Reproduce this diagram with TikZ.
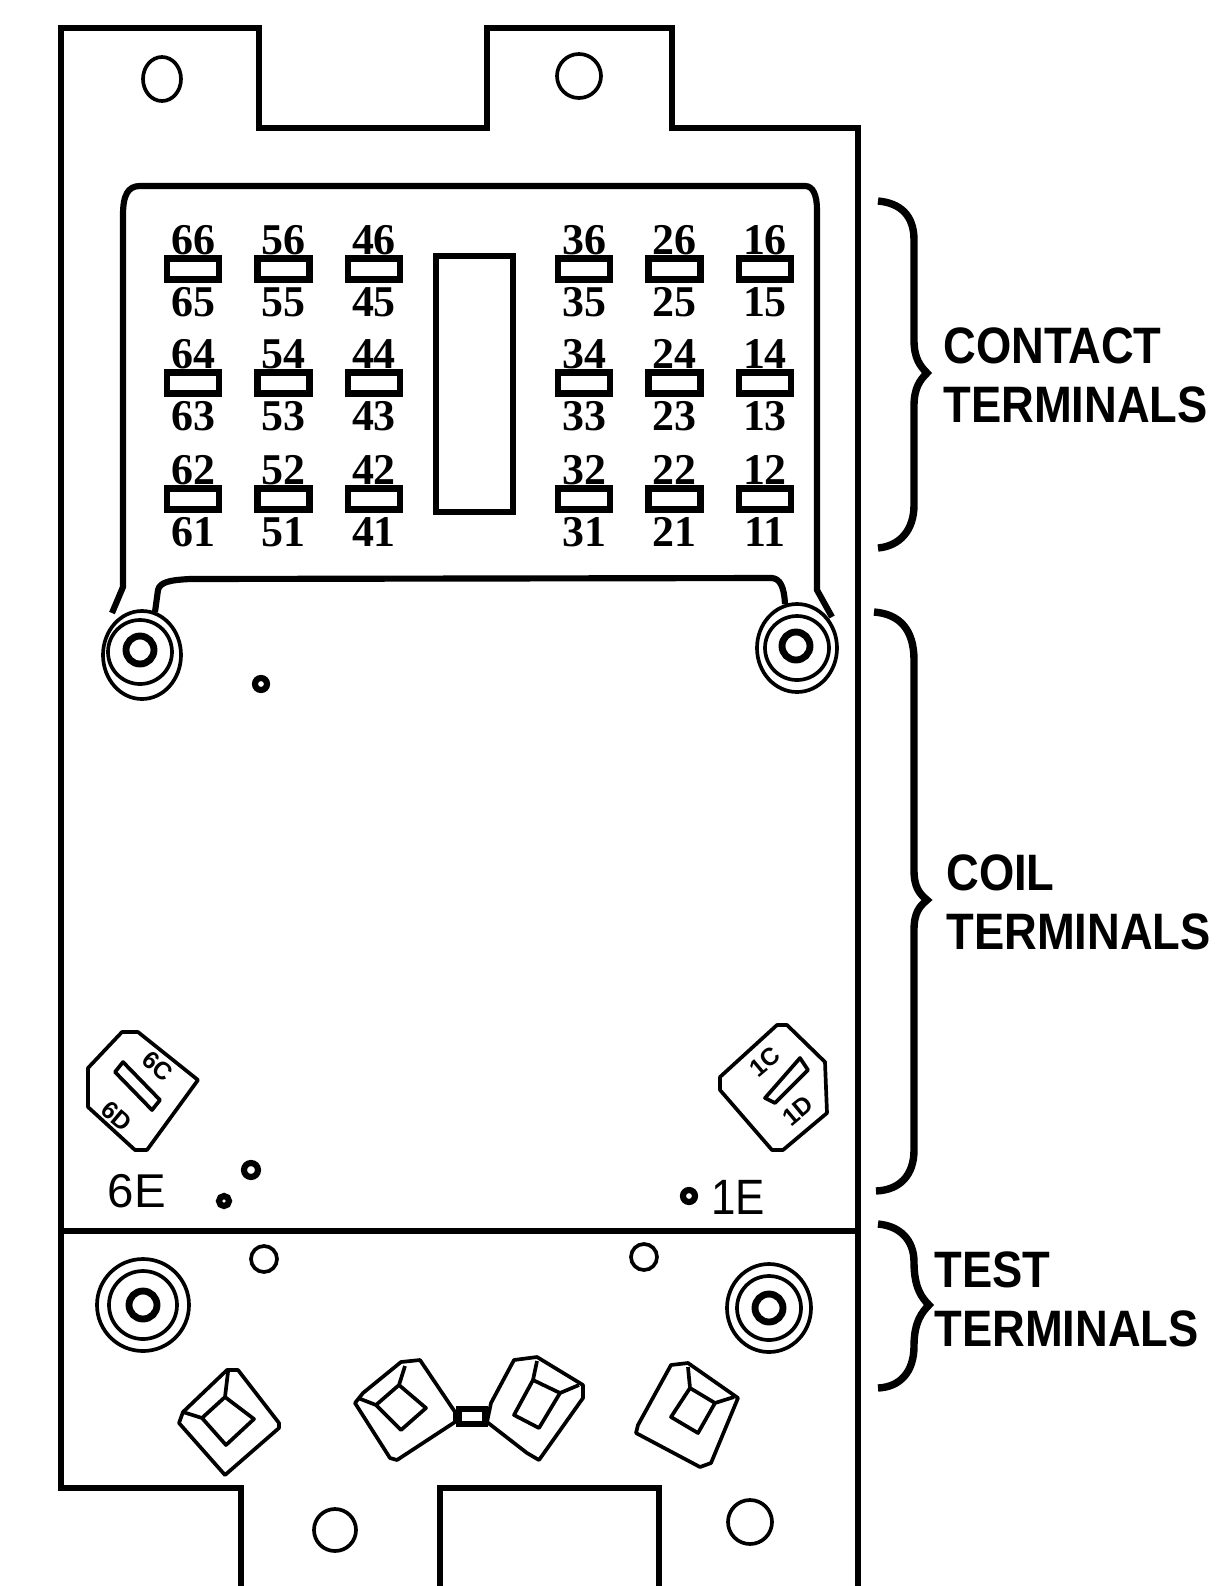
\documentclass[tikz,border=0pt]{standalone}
\usepackage{fontspec}
\setmainfont{Liberation Sans}
\newfontfamily\digitfont{Liberation Serif}
\newcommand{\tallcap}[1]{\scalebox{1}[1.13]{#1}}
\tikzset{
	x=0.02cm, % Un pixel de la referencia
	y=-0.02cm, % El eje y hacia abajo
	node distance=1.81cm, % Distancia entre columnas
	panel/.style={line width=3.5pt}, % Contornos gruesos
	bracket/.style={line width=4.2pt}, % Llaves de la derecha
	fine/.style={line width=2.1pt, line join=round}, % Contornos de las piezas
	nutring/.style={line width=3.9pt}, % Anillo central de las tuercas
	terminal/.style={draw, line width=3.7pt, minimum width=1.04cm, minimum height=0.42cm, inner sep=0pt, label distance=2.4pt}, % Ranuras de contacto
	every label/.style={font=\digitfont\bfseries\fontsize{25}{25}\selectfont, inner sep=0pt, text height=19pt}, % Numeros de las ranuras
	caption/.style={font=\bfseries\fontsize{25.8}{33.6}\selectfont, align=left, anchor=west, inner sep=0pt}, % Textos de la derecha
	coilmark/.style={font=\bfseries\fontsize{14}{14}\selectfont, inner sep=0pt} % Textos girados
}

\begin{document}
\begin{tikzpicture}
			\useasboundingbox (0,0) rectangle (1217,1586);
			% placa exterior
			\draw[panel] (241,1586) -- (241,1488) -- (61,1488) -- (61,28) -- (259,28) -- (259,128) -- (487,128) -- (487,28) -- (672,28) -- (672,128) -- (858,128) -- (858,1586);
			\draw[panel] (440,1586) -- (440,1488) -- (659,1488) -- (659,1586);
			\draw[panel] (61,1231) -- (858,1231);
			\draw[fine] (162,79) ellipse [x radius=19, y radius=22];
			\draw[fine] (579,76) ellipse [x radius=22, y radius=22];
			\draw[fine] (335,1530) ellipse [x radius=21, y radius=21];
			\draw[fine] (750,1522) ellipse [x radius=22, y radius=22];
			% zona de contactos
			\draw[panel] (112,613) -- (123,587) -- (123,215) .. controls (123,195) and (128,186) .. (140,186) -- (805,186) .. controls (813,186) and (817,195) .. (817,210) -- (817,590) -- (832,617);
			\draw[panel] (155,612) -- (158,590) .. controls (160,582) and (170,580) .. (190,579) -- (772,578) .. controls (780,579) and (784,586) .. (785,604);
			\node[terminal, label=above:{66}, label=below:{65}] (t66) at (193,269) {};
			\node[terminal, label=above:{56}, label=below:{55}, right of=t66] (t56) {};
			\node[terminal, label=above:{46}, label=below:{45}, right of=t56] (t46) {};
			\node[terminal, label=above:{64}, label=below:{63}, below of=t66, node distance=2.28cm] (t64) {};
			\node[terminal, label=above:{54}, label=below:{53}, right of=t64] (t54) {};
			\node[terminal, label=above:{44}, label=below:{43}, right of=t54] (t44) {};
			\node[terminal, label=above:{62}, label=below:{61}, below of=t64, node distance=2.32cm] (t62) {};
			\node[terminal, label=above:{52}, label=below:{51}, right of=t62] (t52) {};
			\node[terminal, label=above:{42}, label=below:{41}, right of=t52] (t42) {};
			\node[terminal, label=above:{36}, label=below:{35}] (t36) at (584,269) {};
			\node[terminal, label=above:{26}, label=below:{25}, right of=t36] (t26) {};
			\node[terminal, label=above:{16}, label=below:{15}, right of=t26] (t16) {};
			\node[terminal, label=above:{34}, label=below:{33}, below of=t36, node distance=2.28cm] (t34) {};
			\node[terminal, label=above:{24}, label=below:{23}, right of=t34] (t24) {};
			\node[terminal, label=above:{14}, label=below:{13}, right of=t24] (t14) {};
			\node[terminal, label=above:{32}, label=below:{31}, below of=t34, node distance=2.32cm] (t32) {};
			\node[terminal, label=above:{22}, label=below:{21}, right of=t32] (t22) {};
			\node[terminal, label=above:{12}, label=below:{11}, right of=t22] (t12) {};
			\draw[panel] (436,256) rectangle (513,512);
			% tuercas
			\draw[fine] (142,655) ellipse [x radius=39, y radius=44] (140,652) circle [radius=32];
			\draw[nutring] (140,650) circle [radius=14];
			\draw[fine] (797,648) ellipse [x radius=40, y radius=44] (797,648) circle [radius=32];
			\draw[nutring] (796,646) circle [radius=14];
			\draw[fine] (143,1305) circle [radius=46] circle [radius=34];
			\draw[nutring] (143,1305) circle [radius=14];
			\draw[fine] (769,1308) ellipse [x radius=42, y radius=44] circle [radius=32];
			\draw[nutring] (769,1308) circle [radius=14];
			% agujeros pequenos
			\draw[panel] (261,684) circle [radius=6];
			\draw[panel] (251,1170) circle [radius=7];
			\draw[panel] (224,1201) circle [radius=5];
			\draw[panel] (689,1196) circle [radius=6];
			\draw[fine] (264,1259) circle [radius=13];
			\draw[fine] (644,1257) circle [radius=13];
			% bornes de bobina
			\draw[fine] (122,1032) -- (138,1032) -- (198,1080) -- (147,1150) -- (135,1150) -- (88,1107) -- (88,1068) -- cycle;
			\draw[fine] (115,1072) -- (123,1062) -- (160,1100) -- (152,1110) -- cycle;
			\node[coilmark, rotate=-40] (markA) at (158,1066) {6C};
			\node[coilmark, rotate=-40] (markB) at (117,1116) {6D};
			\draw[fine] (720,1077) -- (720,1090) -- (772,1150) -- (783,1150) -- (827,1113) -- (825,1062) -- (787,1025) -- (777,1025) -- cycle;
			\draw[fine] (765,1098) -- (775,1103) -- (808,1070) -- (800,1058) -- cycle;
			\node[coilmark, rotate=40] (markC) at (765,1062) {1C};
			\node[coilmark, rotate=40] (markD) at (798,1111) {1D};
			\node[font=\fontsize{27}{27}\selectfont, inner sep=0pt] (labSix) at (137,1191) {6E};
			\node[font=\fontsize{25}{25}\selectfont, inner sep=0pt] (labOne) at (738,1197) {\tallcap{1E}};
			% bornes de prueba
			\draw[fine] (227,1370) -- (238,1370) -- (279,1423) -- (279,1428) -- (225,1475) -- (179,1423) -- (183,1412) -- cycle;
			\draw[fine] (225,1397) -- (254,1419) -- (226,1445) -- (202,1418) -- cycle (228,1372) -- (225,1397) (183,1412) -- (202,1418);
			\draw[fine] (401,1362) -- (420,1360) -- (455,1412) -- (455,1422) -- (397,1460) -- (390,1458) -- (355,1403) -- (363,1393) -- cycle;
			\draw[fine] (399,1385) -- (426,1408) -- (401,1430) -- (376,1405) -- cycle (405,1366) -- (399,1385) (358,1398) -- (376,1405);
			\draw[panel] (459,1409) rectangle (485,1424);
			\draw[fine] (514,1360) -- (537,1357) -- (583,1385) -- (583,1398) -- (539,1460) -- (527,1453) -- (487,1422) -- (491,1403) -- cycle;
			\draw[fine] (533,1380) -- (560,1393) -- (539,1428) -- (514,1415) -- cycle (537,1361) -- (533,1380) (579,1385) -- (560,1393);
			\draw[fine] (671,1365) -- (688,1363) -- (738,1398) -- (711,1463) -- (700,1467) -- (636,1433) -- (638,1425) -- cycle;
			\draw[fine] (690,1388) -- (715,1403) -- (698,1433) -- (671,1417) -- cycle (688,1367) -- (690,1388) (734,1397) -- (715,1403);
			% llaves
			\draw[bracket] (878,201) .. controls (900,203) and (914,215) .. (914,240) -- (914,340) .. controls (914,358) and (920,366) .. (927,373) .. controls (920,380) and (914,388) .. (914,406) -- (914,505) .. controls (914,530) and (900,546) .. (878,548);
			\draw[bracket] (874,612) .. controls (900,614) and (914,630) .. (914,660) -- (914,870) .. controls (914,888) and (920,894) .. (927,900) .. controls (920,906) and (914,912) .. (914,930) -- (914,1150) .. controls (914,1175) and (900,1190) .. (876,1191);
			\draw[bracket] (878,1224) .. controls (900,1226) and (914,1240) .. (914,1262) .. controls (914,1288) and (922,1298) .. (929,1305) .. controls (922,1312) and (914,1322) .. (914,1346) .. controls (914,1372) and (900,1387) .. (878,1388);
			\node[caption] (labContact) at (943,375) {\tallcap{CONTACT}\\\tallcap{TERMINALS}};
			\node[caption] (labCoil) at (946,902) {\tallcap{COIL}\\\tallcap{TERMINALS}};
			\node[caption] (labTest) at (934,1299) {\tallcap{TEST}\\\tallcap{TERMINALS}};
			\end{tikzpicture}
\end{document}
